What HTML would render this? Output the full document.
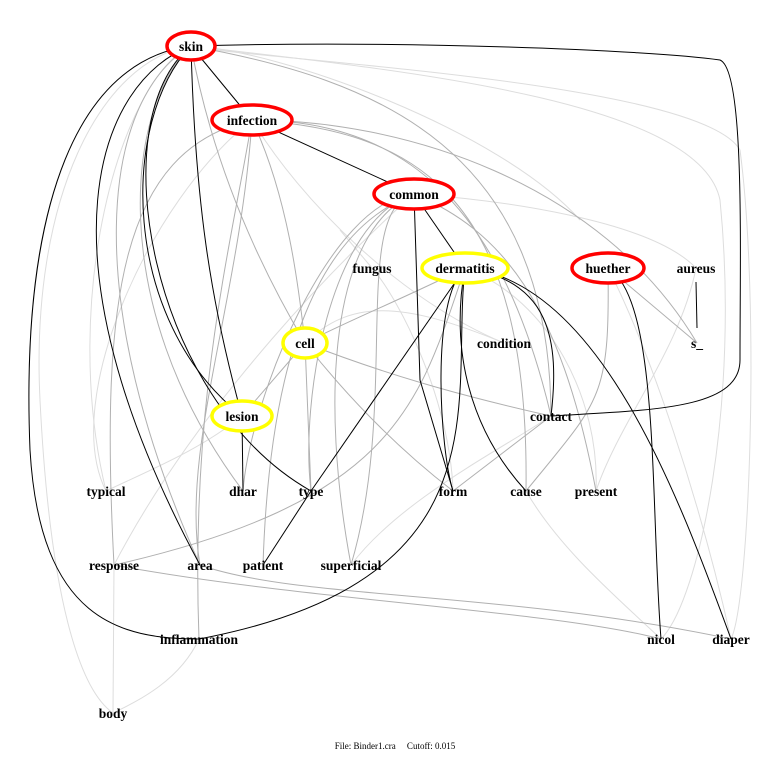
<!DOCTYPE html>
<html><head><meta charset="utf-8"><style>
html,body{margin:0;padding:0;background:#fff;}
svg{display:block;}
text{font-family:"Liberation Serif",serif;font-weight:bold;font-size:13.5px;fill:#000;text-anchor:middle;}
</style></head><body>
<svg width="780" height="759" viewBox="0 0 780 759" xmlns="http://www.w3.org/2000/svg">
<g fill="none" stroke="#ddd" stroke-width="1">
<path d="M191,46 C100,60 30,200 40,400 C50,600 80,690 113,713"/>
<path d="M191,46 C120,80 60,300 106,491"/>
<path d="M191,46 C250,60 700,80 740,150 C760,300 750,600 731,639"/>
<path d="M191,46 C400,70 700,100 720,200 C740,400 700,600 661,639"/>
<path d="M252,120 C150,200 60,400 106,491"/>
<path d="M252,120 C300,200 400,300 504,343"/>
<path d="M414,194 C500,200 650,220 696,268"/>
<path d="M414,194 C350,250 200,400 114,565"/>
<path d="M305,343 C350,300 400,300 504,343"/>
<path d="M465,268 C550,300 600,400 596,491"/>
<path d="M551,416 C500,450 400,500 351,565"/>
<path d="M199,639 C180,680 140,700 113,713"/>
<path d="M114,565 L113,713"/>
<path d="M526,491 C560,550 620,600 661,639"/>
<path d="M696,268 C680,350 620,420 596,491"/>
<path d="M372,268 L340,230"/>
<path d="M372,268 C400,300 450,400 453,491"/>
<path d="M242,416 C200,450 150,470 106,491"/>
<path d="M608,268 C650,350 700,500 731,639"/>
<path d="M191,46 C280,50 500,130 580,220"/>
</g>
<g fill="none" stroke="#b0b0b0" stroke-width="1">
<path d="M191,46 C100,100 80,300 200,565"/>
<path d="M191,46 C130,100 100,300 243,491"/>
<path d="M191,46 C210,150 250,250 305,343"/>
<path d="M191,46 C380,80 550,150 551,416"/>
<path d="M252,120 C400,120 600,180 697,343"/>
<path d="M252,120 C400,120 500,200 551,416"/>
<path d="M252,120 C420,130 530,200 526,491"/>
<path d="M252,120 C230,250 190,400 199,639"/>
<path d="M252,120 C240,300 180,450 200,565"/>
<path d="M252,120 C290,200 300,300 305,343"/>
<path d="M252,120 C120,150 100,300 114,565"/>
<path d="M414,194 C320,230 270,350 263,565"/>
<path d="M414,194 C330,220 300,400 311,491"/>
<path d="M414,194 C330,230 320,400 351,565"/>
<path d="M414,194 C350,210 400,400 351,565"/>
<path d="M414,194 C500,230 560,300 596,491"/>
<path d="M414,194 C330,200 250,400 243,491"/>
<path d="M465,268 C400,300 350,320 305,343"/>
<path d="M305,343 C350,400 400,450 453,491"/>
<path d="M305,343 C400,380 480,400 551,416"/>
<path d="M305,343 L311,491"/>
<path d="M305,343 L242,416"/>
<path d="M551,416 L453,491"/>
<path d="M608,268 L697,343"/>
<path d="M608,268 C610,400 600,400 526,491"/>
<path d="M114,565 C300,600 550,610 661,639"/>
<path d="M200,565 C300,600 500,590 731,639"/>
<path d="M465,268 C420,400 400,500 114,565"/>
</g>
<g fill="none" stroke="#000" stroke-width="1">
<path d="M191,46 L252,120"/>
<path d="M252,120 L414,194"/>
<path d="M414,194 L465,268"/>
<path d="M191,46 C195,200 210,300 242,416"/>
<path d="M191,46 C120,120 120,320 242,416"/>
<path d="M191,46 C100,120 150,400 311,491"/>
<path d="M191,46 C100,80 30,250 200,565" />
<path d="M191,46 C80,60 20,200 30,450 C40,620 120,639 199,639"/>
<path d="M191,46 C400,40 650,50 720,60 C745,70 740,250 740,360 C740,410 650,410 551,416"/>
<path d="M242,416 L243,491"/>
<path d="M414,194 L420,380 L453,491"/>
<path d="M465,268 L311,491"/>
<path d="M465,268 C430,300 440,450 453,491"/>
<path d="M465,268 C450,350 470,430 526,491"/>
<path d="M465,268 C550,280 560,340 551,416"/>
<path d="M465,268 C600,280 680,500 731,639"/>
<path d="M465,268 C450,400 510,580 199,639"/>
<path d="M608,268 C660,300 650,500 661,639"/>
<path d="M696,282 L697,328"/>
<path d="M311,491 L263,565"/>
</g>
<g fill="#fff" stroke-width="3.5">
<ellipse cx="191" cy="46" rx="24" ry="14" stroke="#f00"/>
<ellipse cx="252" cy="120" rx="40" ry="15" stroke="#f00"/>
<ellipse cx="414" cy="194" rx="40" ry="15" stroke="#f00"/>
<ellipse cx="465" cy="268" rx="43" ry="15" stroke="#ff0"/>
<ellipse cx="608" cy="268" rx="36" ry="15" stroke="#f00"/>
<ellipse cx="305" cy="343" rx="22" ry="15" stroke="#ff0"/>
<ellipse cx="242" cy="416" rx="30" ry="15" stroke="#ff0"/>
</g>
<g>
<text x="191" y="51">skin</text>
<text x="252" y="125">infection</text>
<text x="414" y="199">common</text>
<text x="465" y="273">dermatitis</text>
<text x="608" y="273">huether</text>
<text x="696" y="273">aureus</text>
<text x="372" y="273">fungus</text>
<text x="305" y="348">cell</text>
<text x="504" y="348">condition</text>
<text x="697" y="348">s_</text>
<text x="242" y="421">lesion</text>
<text x="551" y="421">contact</text>
<text x="106" y="496">typical</text>
<text x="243" y="496">dhar</text>
<text x="311" y="496">type</text>
<text x="453" y="496">form</text>
<text x="526" y="496">cause</text>
<text x="596" y="496">present</text>
<text x="114" y="570">response</text>
<text x="200" y="570">area</text>
<text x="263" y="570">patient</text>
<text x="351" y="570">superficial</text>
<text x="199" y="644">inflammation</text>
<text x="661" y="644">nicol</text>
<text x="731" y="644">diaper</text>
<text x="113" y="718">body</text>
<text x="395" y="749" style="font-weight:normal;font-size:9px;white-space:pre" xml:space="preserve">File: Binder1.cra     Cutoff: 0.015</text>
</g>
</svg>
</body></html>
